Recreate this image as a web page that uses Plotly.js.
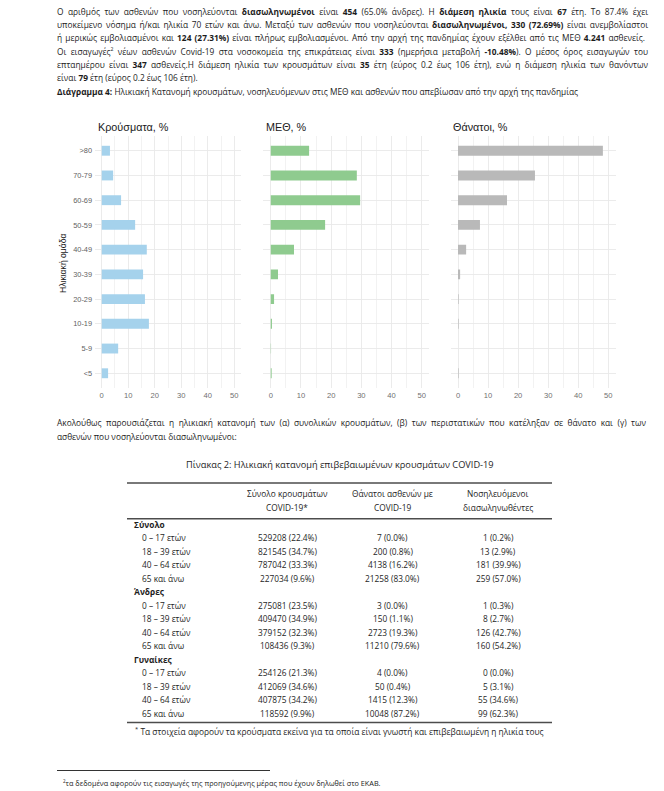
<!DOCTYPE html>
<html><head><meta charset="utf-8">
<script src="https://cdn.plot.ly/plotly-3.0.1.min.js"></script>
<style>
html,body{margin:0;padding:0;background:#fff;}
#page{position:relative;width:664px;height:791px;overflow:hidden;font-family:"Open Sans",sans-serif;color:#1c1c1c;}
.ln{position:absolute;left:57px;white-space:nowrap;line-height:13px;}
.ln b{font-weight:700;}
.ln sup{font-size:0.62em;vertical-align:super;line-height:0;}
#chart{position:absolute;left:0;top:0;width:664px;height:791px;}
#sep{position:absolute;left:57px;top:770px;width:213px;height:0;border-top:1px solid #333;}
</style></head><body>
<div id="page">
<div class="ln" data-y="11" data-w="591">Ο αριθμός των ασθενών που νοσηλεύονται <b>διασωληνωμένοι</b> είναι <b>454</b> (65.0% άνδρες). Η <b>διάμεση ηλικία</b> τους είναι <b>67</b> έτη. Το 87.4% έχει</div>
<div class="ln" data-y="24" data-w="591">υποκείμενο νόσημα ή/και ηλικία 70 ετών και άνω. Μεταξύ των ασθενών που νοσηλεύονται <b>διασωληνωμένοι, 330 (72.69%)</b> είναι ανεμβολίαστοι</div>
<div class="ln" data-y="37" data-w="588">ή μερικώς εμβολιασμένοι και <b>124 (27.31%)</b> είναι πλήρως εμβολιασμένοι. Από την αρχή της πανδημίας έχουν εξέλθει από τις ΜΕΘ <b>4.241</b> ασθενείς.</div>
<div class="ln" data-y="51" data-w="591">Οι εισαγωγές<sup>2</sup> νέων ασθενών Covid-19 στα νοσοκομεία της επικράτειας είναι <b>333</b> (ημερήσια μεταβολή <b>-10.48%</b>). Ο μέσος όρος εισαγωγών του</div>
<div class="ln" data-y="64" data-w="591">επταημέρου είναι <b>347</b> ασθενείς.Η διάμεση ηλικία των κρουσμάτων είναι <b>35</b> έτη (εύρος 0.2 έως 106 έτη), ενώ η διάμεση ηλικία των θανόντων</div>
<div class="ln" data-y="77">είναι <b>79</b> έτη (εύρος 0.2 έως 106 έτη).</div>
<div class="ln" id="fitLine" data-y="91"><b>Διάγραμμα 4:</b> Ηλικιακή Κατανομή κρουσμάτων, νοσηλευόμενων στις ΜΕΘ και ασθενών που απεβίωσαν από την αρχή της πανδημίας</div>
<div class="ln" data-y="422" data-w="589">Ακολούθως παρουσιάζεται η ηλικιακή κατανομή των (α) συνολικών κρουσμάτων, (β) των περιστατικών που κατέληξαν σε θάνατο και (γ) των</div>
<div class="ln" data-y="436">ασθενών που νοσηλεύονται διασωληνωμένοι:</div>
<div id="sep"></div>
<div class="ln" id="foot" data-y="783" style="left:63px"><sup>2</sup>τα δεδομένα αφορούν τις εισαγωγές της προηγούμενης μέρας που έχουν δηλωθεί στο ΕΚΑΒ.</div>
<div id="chart"></div>
</div>
<script>
// ---------- chart data ----------
const ageGroups = ['>80','70-79','60-69','50-59','40-49','30-39','20-29','10-19','5-9','<5'];
const casesPct  = [3.1, 4.3, 7.3, 12.6, 17.0, 15.6, 16.3, 17.8, 6.2, 2.4];
const icuPct    = [12.7, 28.5, 29.6, 18.0, 7.7, 2.4, 1.1, 0.4, 0.1, 0.3];
const deathsPct = [48.2, 25.6, 16.3, 7.3, 2.7, 0.7, 0.2, 0.2, 0.0, 0.2];
const panelTitles = ['Κρούσματα, %', 'ΜΕΘ, %', 'Θάνατοι, %'];
const xTickVals = [0, 10, 20, 30, 40, 50];
const yAxisTitle = 'Ηλικιακή ομάδα';

// ---------- table data ----------
const tableTitle = 'Πίνακας 2: Ηλικιακή κατανομή επιβεβαιωμένων κρουσμάτων COVID-19';
const headerLine1 = ['Σύνολο κρουσμάτων', 'Θάνατοι ασθενών με', 'Νοσηλευόμενοι'];
const headerLine2 = ['COVID-19*', 'COVID-19', 'διασωληνωθέντες'];
const groupNames = ['Σύνολο', 'Άνδρες', 'Γυναίκες'];
const ageBands = ['0 – 17 ετών', '18 – 39 ετών', '40 – 64 ετών', '65 και άνω'];
const casesAllN    = [529208, 821545, 787042, 227034];
const casesAllP    = [22.4, 34.7, 33.3, 9.6];
const deathsAllN   = [7, 200, 4138, 21258];
const deathsAllP   = [0.0, 0.8, 16.2, 83.0];
const intubAllN    = [1, 13, 181, 259];
const intubAllP    = [0.2, 2.9, 39.9, 57.0];
const casesMenN    = [275081, 409470, 379152, 108436];
const casesMenP    = [23.5, 34.9, 32.3, 9.3];
const deathsMenN   = [3, 150, 2723, 11210];
const deathsMenP   = [0.0, 1.1, 19.3, 79.6];
const intubMenN    = [1, 8, 126, 160];
const intubMenP    = [0.3, 2.7, 42.7, 54.2];
const casesWomenN  = [254126, 412069, 407875, 118592];
const casesWomenP  = [21.3, 34.6, 34.2, 9.9];
const deathsWomenN = [4, 50, 1415, 10048];
const deathsWomenP = [0.0, 0.4, 12.3, 87.2];
const intubWomenN  = [0, 5, 55, 99];
const intubWomenP  = [0.0, 3.1, 34.6, 62.3];
const tableNote = 'Τα στοιχεία αφορούν τα κρούσματα εκείνα για τα οποία είναι γνωστή και επιβεβαιωμένη η ηλικία τους';

// ---------- text layout ----------
const lines = Array.from(document.querySelectorAll('.ln'));
lines.forEach(el => { el.style.fontSize = '10px'; });
const fitEl = document.getElementById('fitLine');
const bodyFs = 10 * 522 / fitEl.getBoundingClientRect().width;
lines.forEach(el => { el.style.fontSize = bodyFs + 'px'; });
const footEl = document.getElementById('foot');
footEl.style.fontSize = '10px';
footEl.style.fontSize = (10 * 318 / footEl.getBoundingClientRect().width) + 'px';
lines.forEach(el => {
  el.style.top = (parseFloat(el.dataset.y) - 6.5) + 'px';
  if (el.dataset.w) {
    const w = el.getBoundingClientRect().width;
    const n = (el.textContent.match(/ /g) || []).length;
    if (n) el.style.wordSpacing = ((parseFloat(el.dataset.w) - w) / n) + 'px';
  }
});

// ---------- helpers ----------
const W = 664, H = 791;
const px = v => v / W;
const py = v => 1 - v / H;
const ctx = document.createElement('canvas').getContext('2d');
function fitSize(text, family, weight, target) {
  ctx.font = weight + ' 20px ' + family;
  return 20 * target / ctx.measureText(text).width;
}
const docFont = '"Open Sans", sans-serif';
const chartFont = '"Liberation Sans", Arial, sans-serif';
const tableFs = fitSize('529208 (22.4%)', '"Open Sans"', 400, 59);
const captionFs = fitSize(tableTitle, '"Open Sans"', 400, 308);
const noteFs = fitSize(tableNote, '"Open Sans"', 400, 404);

// ---------- chart ----------
const panelPx = [[95.1, 240.9], [263.2, 429.3], [450.5, 615.8]];
const barColors = ['#a5d2ec', '#8fcb8f', '#b9b9b9'];
const series = [casesPct, icuPct, deathsPct];
const yDomain = [py(388.1), py(135.9)];
const traces = [];
const layout = {
  width: W, height: H,
  margin: {l: 0, r: 0, t: 0, b: 0, pad: 0},
  paper_bgcolor: 'rgba(0,0,0,0)', plot_bgcolor: 'rgba(0,0,0,0)',
  showlegend: false, bargap: 0.6,
  annotations: [], shapes: []
};
series.forEach((vals, i) => {
  const sx = i === 0 ? '' : String(i + 1);
  traces.push({
    type: 'bar', orientation: 'h', x: vals, y: ageGroups,
    xaxis: 'x' + sx, yaxis: 'y' + sx, width: 0.4,
    marker: {color: barColors[i], line: {width: 0}}, hoverinfo: 'skip'
  });
  layout['xaxis' + sx] = {
    domain: [px(panelPx[i][0]), px(panelPx[i][1])], anchor: 'y' + sx,
    range: [-2.5, 52.5], tickmode: 'array', tickvals: xTickVals,
    ticks: '', showline: false, zeroline: false,
    showgrid: true, gridcolor: '#e9e9e9', gridwidth: 0.9,
    minor: {tickmode: 'linear', tick0: 5, dtick: 10, showgrid: true, gridcolor: '#ededed', gridwidth: 0.7},
    tickfont: {family: chartFont, size: 7.6, color: '#6f6f6f'},
    ticklabelstandoff: 1, fixedrange: true
  };
  layout['yaxis' + sx] = {
    domain: yDomain, anchor: 'x' + sx, type: 'category',
    categoryorder: 'array', categoryarray: ageGroups,
    range: [ageGroups.length - 0.4, -0.6],
    ticks: '', showline: false, zeroline: false,
    showgrid: true, gridcolor: '#e9e9e9', gridwidth: 0.9,
    showticklabels: i === 0,
    tickfont: {family: chartFont, size: 7.4, color: '#5f5f5f'},
    ticklabelstandoff: 2, fixedrange: true
  };
  layout.annotations.push({
    xref: 'paper', yref: 'paper', x: px(panelPx[i][0] + 0.5), y: py(127),
    xanchor: 'left', yanchor: 'middle', showarrow: false, text: panelTitles[i],
    font: {family: chartFont, size: 10.8, color: '#1a1a1a'}
  });
});
layout.annotations.push({
  xref: 'paper', yref: 'paper', x: px(63), y: py(263), textangle: -90,
  xanchor: 'center', yanchor: 'middle', showarrow: false, text: yAxisTitle,
  font: {family: chartFont, size: 8.6, color: '#1a1a1a'}
});

// ---------- table ----------
traces.push({type: 'scatter', x: [], y: [], xaxis: 'x4', yaxis: 'y4', hoverinfo: 'skip'});
layout.xaxis4 = {domain: [px(129), px(551)], range: [-0.5, 3.5], anchor: 'y4', visible: false, fixedrange: true};
layout.yaxis4 = {domain: [py(719.75), py(517.25)], range: [14.5, -0.5], anchor: 'x4', visible: false, fixedrange: true};
const tf = {family: docFont, size: tableFs, color: '#1e1e1e'};
layout.annotations.push({
  xref: 'paper', yref: 'paper', x: px(339.5), y: py(464.5), xanchor: 'center', yanchor: 'middle',
  showarrow: false, text: tableTitle, font: {family: docFont, size: captionFs, color: '#1e1e1e'}
});
headerLine1.forEach((t, c) => {
  layout.annotations.push({xref: 'x4', yref: 'paper', x: c + 1, y: py(493.5), xanchor: 'center', yanchor: 'middle', showarrow: false, text: t, font: tf});
  layout.annotations.push({xref: 'x4', yref: 'paper', x: c + 1, y: py(507.5), xanchor: 'center', yanchor: 'middle', showarrow: false, text: headerLine2[c], font: tf});
});
const groupCols = [
  [[casesAllN, casesAllP], [deathsAllN, deathsAllP], [intubAllN, intubAllP]],
  [[casesMenN, casesMenP], [deathsMenN, deathsMenP], [intubMenN, intubMenP]],
  [[casesWomenN, casesWomenP], [deathsWomenN, deathsWomenP], [intubWomenN, intubWomenP]]
];
let row = 0;
groupNames.forEach((g, gi) => {
  layout.annotations.push({xref: 'x4', yref: 'y4', x: -0.5, y: row, xanchor: 'left', yanchor: 'middle', xshift: 3, showarrow: false, text: '<b>' + g + '</b>', font: tf});
  row++;
  ageBands.forEach((a, ai) => {
    layout.annotations.push({xref: 'x4', yref: 'y4', x: -0.5, y: row, xanchor: 'left', yanchor: 'middle', xshift: 11, showarrow: false, text: a, font: tf});
    groupCols[gi].forEach((pair, c) => {
      layout.annotations.push({
        xref: 'x4', yref: 'y4', x: c + 1, y: row, xanchor: 'center', yanchor: 'middle', showarrow: false,
        text: pair[0][ai] + ' (' + pair[1][ai].toFixed(1) + '%)', font: tf
      });
    });
    row++;
  });
});
[483, 518.7, 722.5].forEach(yy => {
  layout.shapes.push({type: 'line', xref: 'paper', yref: 'paper', x0: px(127), x1: px(552), y0: py(yy), y1: py(yy), line: {color: '#4d4d4d', width: 1.6}});
});
layout.annotations.push({
  xref: 'paper', yref: 'paper', x: px(133), y: py(730.5), xanchor: 'left', yanchor: 'middle', showarrow: false,
  text: '<sup>*</sup> ' + tableNote, font: {family: docFont, size: noteFs, color: '#1e1e1e'}
});

Plotly.newPlot('chart', traces, layout, {staticPlot: true, displayModeBar: false});
</script>
</body></html>
